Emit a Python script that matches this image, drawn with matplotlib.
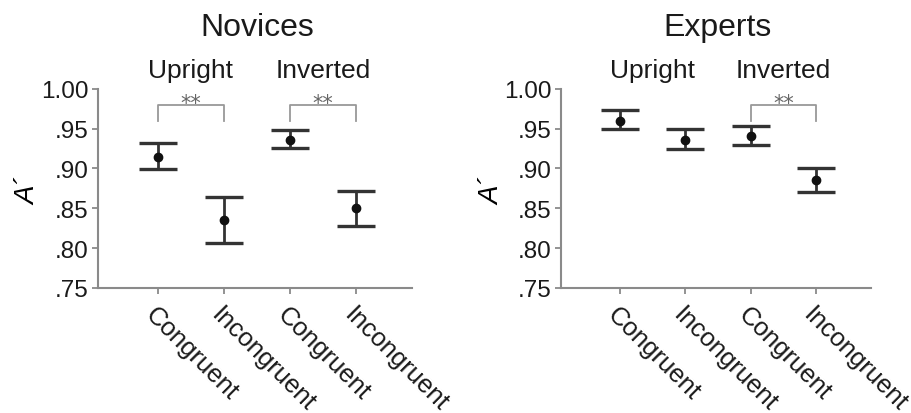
import matplotlib
matplotlib.use("Agg")
import matplotlib.pyplot as plt

plt.rcParams['font.family'] = ['Liberation Sans', 'DejaVu Sans']

conditions = ["Congruent", "Incongruent", "Congruent", "Incongruent"]
groups = ["Upright", "Inverted"]
panels = ["Novices", "Experts"]

novice_mean = [0.914, 0.835, 0.936, 0.850]
novice_upper = [0.932, 0.864, 0.948, 0.872]
novice_lower = [0.899, 0.806, 0.926, 0.828]

expert_mean = [0.960, 0.936, 0.941, 0.886]
expert_upper = [0.974, 0.949, 0.953, 0.901]
expert_lower = [0.949, 0.924, 0.930, 0.870]

# significance brackets: (start index, end index) per panel
novice_sig = [(0, 1), (2, 3)]
expert_sig = [(2, 3)]

yticks = [0.75, 0.80, 0.85, 0.90, 0.95, 1.00]
ytick_labels = [".75", ".80", ".85", ".90", ".95", "1.00"]

fig = plt.figure(figsize=(9.12, 4.14), dpi=100)
ax_pos = [[0.1075, 0.302, 0.344, 0.481], [0.615, 0.302, 0.340, 0.481]]

data = [(novice_mean, novice_upper, novice_lower, novice_sig),
        (expert_mean, expert_upper, expert_lower, expert_sig)]

axis_gray = "#8a8a8a"
bar_col = "#333333"

for i, (title, (m, up, lo, sig)) in enumerate(zip(panels, data)):
    ax = fig.add_axes(ax_pos[i])
    x = list(range(1, len(m) + 1))
    yerr = [[mm - l for mm, l in zip(m, lo)], [u - mm for mm, u in zip(m, up)]]
    ax.errorbar(x, m, yerr=yerr, fmt='o', color=bar_col, ecolor=bar_col,
                elinewidth=2.0, capsize=14, capthick=2.4, markersize=6,
                markerfacecolor='#111111', markeredgecolor='#111111')
    ax.set_xlim(0.1, 4.84)
    ax.set_ylim(0.75, 1.00)
    ax.set_yticks(yticks)
    ax.set_yticklabels(ytick_labels, fontsize=17.5, color='#1a1a1a')
    ax.set_xticks(x)
    ax.set_xticklabels(conditions, fontsize=18.5, rotation=-45, ha='left',
                       va='top', rotation_mode='anchor', color='#1a1a1a')
    for lbl in ax.get_xticklabels():
        lbl.set_y(-0.02)
    for s in ['top', 'right']:
        ax.spines[s].set_visible(False)
    for s in ['left', 'bottom']:
        ax.spines[s].set_color(axis_gray)
        ax.spines[s].set_linewidth(1.5)
    ax.tick_params(axis='both', direction='out', length=4, width=1.3,
                   color=axis_gray, pad=3)
    ax.set_ylabel("A´", fontsize=20, style='italic', rotation=90)
    ax.yaxis.set_label_coords(-0.18, 0.49)

    # title and group labels
    ax.text(2.5, 1.068, title, ha='center', va='baseline', fontsize=23,
            color='#1a1a1a', clip_on=False)
    for g, gname in enumerate(groups):
        ax.text(1.5 + 2 * g, 1.015, gname, ha='center', va='baseline',
                fontsize=19, color='#1a1a1a', clip_on=False)

    for (a, b) in sig:
        xa, xb = x[a], x[b]
        ax.plot([xa, xa, xb, xb], [0.960, 0.980, 0.980, 0.960],
                color='#999999', lw=1.3, clip_on=False)
        ax.text((xa + xb) / 2, 0.975, "**", ha='center', va='baseline',
                fontsize=15, color='#666666', clip_on=False,
                family='DejaVu Sans')

fig.savefig("out.png", dpi=100)
